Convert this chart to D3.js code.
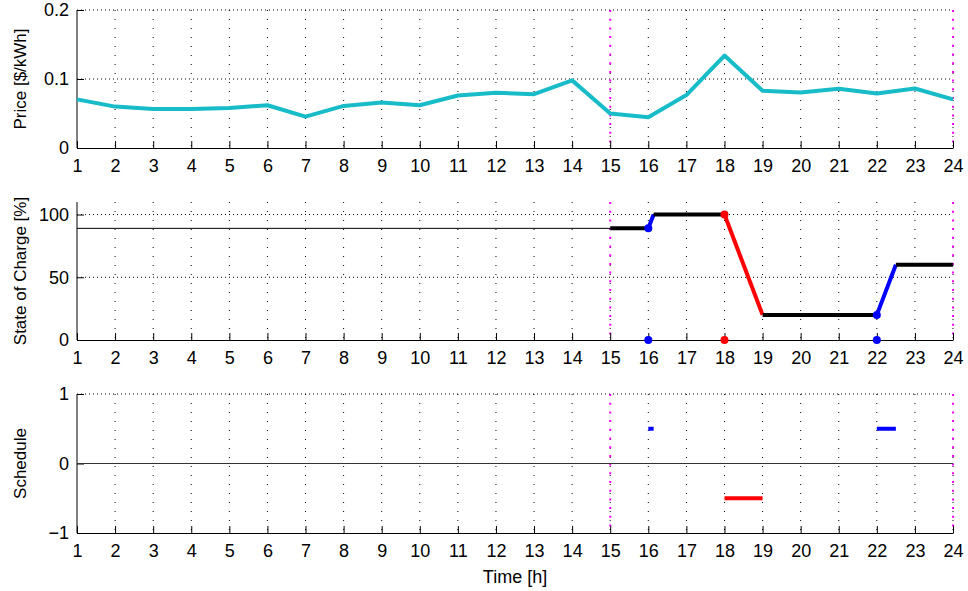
<!DOCTYPE html>
<html>
<head>
<meta charset="utf-8">
<script src="https://cdn.jsdelivr.net/npm/d3@7"></script>
<style>
  body { margin: 0; background: #fff; }
  svg { font-family: "Liberation Sans", Arial, sans-serif; }
</style>
</head>
<body>
<div id="chart"></div>
<script>
// hours 1..24
const hours = d3.range(1, 25);

// price per hour [$/kWh]
const price = [0.0705, 0.060, 0.0566, 0.0566, 0.058, 0.062, 0.0455, 0.061, 0.066, 0.062,
               0.076, 0.080, 0.078, 0.098, 0.050, 0.0446, 0.0767, 0.134, 0.083, 0.0806,
               0.0858, 0.079, 0.0863, 0.0705];

// state of charge before the window (thin line)
const socBefore = [[1, 89], [15, 89]];
// state of charge segments: [x0, y0, x1, y1, kind]
const socSegments = [
  [15, 89, 16, 89, "idle"],
  [16, 89, 16.14, 100, "charge"],
  [16.14, 100, 18, 100, "idle"],
  [18, 100, 19, 20, "discharge"],
  [19, 20, 22, 20, "idle"],
  [22, 20, 22.5, 60, "charge"],
  [22.5, 60, 24, 60, "idle"]
];
// event markers: [x, soc, kind]
const socEvents = [[16, 89, "charge"], [18, 100, "discharge"], [22, 20, "charge"]];

// schedule segments: [x0, x1, value, kind]
const schedule = [[16, 16.14, 0.5, "charge"], [18, 19, -0.5, "discharge"], [22, 22.5, 0.5, "charge"]];

// window boundaries
const windowMarks = [15, 24];

const priceTicks = [0, 0.1, 0.2];
const socTicks = [0, 50, 100];
const schedTicks = [-1, 0, 1];

const kindColor = { idle: "#000", charge: "#0000ff", discharge: "#ff0000" };

const width = 968, height = 591;
const left = 77, right = 953;

const svg = d3.select("#chart").append("svg")
    .attr("width", width)
    .attr("height", height);

const xScale = d3.scaleLinear().domain([1, 24]).range([left, right]);

function panel(top, bottom, domain, ticks, fmt, label) {
  const y = d3.scaleLinear().domain(domain).range([bottom, top]);
  const g = svg.append("g");

  // vertical grid
  g.selectAll(".vgrid")
    .data(hours.slice(1))
    .enter().append("line")
    .attr("x1", d => xScale(d)).attr("x2", d => xScale(d))
    .attr("y1", top).attr("y2", bottom)
    .attr("stroke", "#000").attr("stroke-width", 1)
    .attr("stroke-dasharray", "1,8");

  // horizontal grid
  g.selectAll(".hgrid")
    .data(ticks.filter(t => t !== domain[0]))
    .enter().append("line")
    .attr("x1", left).attr("x2", right)
    .attr("y1", d => y(d)).attr("y2", d => y(d))
    .attr("stroke", "#000").attr("stroke-width", 1)
    .attr("stroke-dasharray", "1,3");

  // window boundaries
  g.selectAll(".win")
    .data(windowMarks)
    .enter().append("line")
    .attr("x1", d => xScale(d)).attr("x2", d => xScale(d))
    .attr("y1", top).attr("y2", bottom)
    .attr("stroke", "#ff00ff").attr("stroke-width", 2)
    .attr("stroke-dasharray", "2,6.7");

  // x axis
  const xa = g.append("g")
    .attr("transform", "translate(0," + bottom + ")")
    .call(d3.axisBottom(xScale).tickValues(hours).tickSizeInner(-7).tickSizeOuter(0).tickPadding(11));
  // y axis
  const ya = g.append("g")
    .attr("transform", "translate(" + left + ",0)")
    .call(d3.axisLeft(y).tickValues(ticks).tickFormat(fmt).tickSizeInner(-7).tickSizeOuter(0).tickPadding(8));

  [xa, ya].forEach(a => {
    a.select(".domain").attr("stroke", "#000");
    a.selectAll(".tick line").attr("stroke", "#000");
    a.selectAll("text").attr("font-size", 18).attr("fill", "#000");
  });
  ya.select(".domain").attr("d", "M0," + bottom + "V" + top);

  g.append("text")
    .attr("transform", "translate(26," + ((top + bottom) / 2) + ") rotate(-90)")
    .attr("text-anchor", "middle")
    .attr("font-size", 17)
    .text(label);

  return y;
}

// ---- Price panel
const yPrice = panel(10, 148, [0, 0.2], priceTicks, d => d === 0 ? "0" : d3.format(".1f")(d), "Price [$/kWh]");
svg.append("path")
  .datum(hours)
  .attr("fill", "none")
  .attr("stroke", "#17bcc8")
  .attr("stroke-width", 4)
  .attr("stroke-linejoin", "round")
  .attr("d", d3.line().x(d => xScale(d)).y((d, i) => yPrice(price[i])));

// ---- State of charge panel
const ySoc = panel(202, 340, [0, 110], socTicks, d => d, "State of Charge [%]");
svg.append("path")
  .datum(socBefore)
  .attr("fill", "none").attr("stroke", "#000").attr("stroke-width", 1)
  .attr("d", d3.line().x(d => xScale(d[0])).y(d => ySoc(d[1])));

svg.selectAll(".soc")
  .data(socSegments)
  .enter().append("line")
  .attr("x1", d => xScale(d[0])).attr("y1", d => ySoc(d[1]))
  .attr("x2", d => xScale(d[2])).attr("y2", d => ySoc(d[3]))
  .attr("stroke", d => kindColor[d[4]])
  .attr("stroke-width", 4);

svg.selectAll(".socdot")
  .data(socEvents)
  .enter().append("circle")
  .attr("cx", d => xScale(d[0])).attr("cy", d => ySoc(d[1]))
  .attr("r", 4).attr("fill", d => kindColor[d[2]]);

svg.selectAll(".socbase")
  .data(socEvents)
  .enter().append("circle")
  .attr("cx", d => xScale(d[0])).attr("cy", ySoc(0))
  .attr("r", 4).attr("fill", d => kindColor[d[2]]);

// ---- Schedule panel
const ySched = panel(394, 533, [-1, 1], schedTicks, d => d < 0 ? "\u2212" + Math.abs(d) : d, "Schedule");
svg.append("line")
  .attr("x1", left).attr("x2", right)
  .attr("y1", ySched(0)).attr("y2", ySched(0))
  .attr("stroke", "#333").attr("stroke-width", 1);

svg.selectAll(".sched")
  .data(schedule)
  .enter().append("line")
  .attr("x1", d => xScale(d[0])).attr("x2", d => xScale(d[1]))
  .attr("y1", d => ySched(d[2])).attr("y2", d => ySched(d[2]))
  .attr("stroke", d => kindColor[d[3]])
  .attr("stroke-width", 4);

svg.append("text")
  .attr("x", (left + right) / 2)
  .attr("y", 583)
  .attr("text-anchor", "middle")
  .attr("font-size", 18)
  .text("Time [h]");
</script>
</body>
</html>
